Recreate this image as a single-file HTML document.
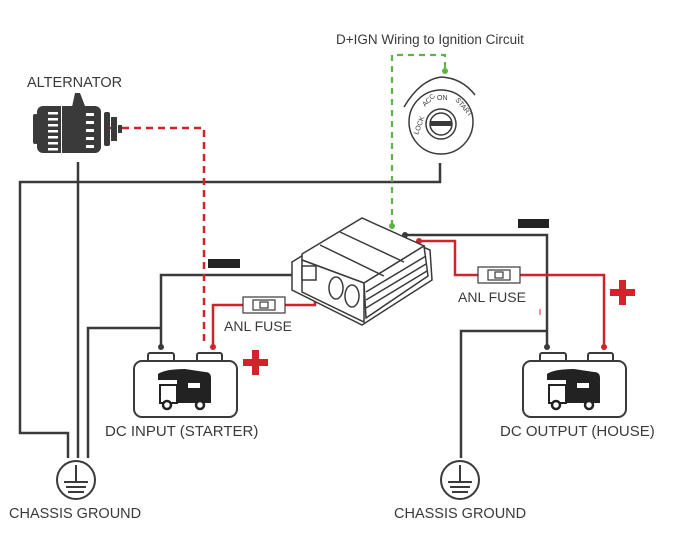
<!DOCTYPE html>
<html><head><meta charset="utf-8"><style>
html,body{margin:0;padding:0;background:#fff}
svg{display:block}
text{font-family:"Liberation Sans",sans-serif;fill:#3a3a3a}
</style></head><body>
<svg width="679" height="545" viewBox="0 0 679 545" xmlns="http://www.w3.org/2000/svg">
<g fill="none" stroke="#3a3a3a" stroke-width="2.5">
<!-- left grounds -->
<polyline points="440,163 440,182 20,182 20,433 68,433 68,458"/>
<line x1="78" y1="162" x2="78" y2="458"/>
<polyline points="88,458 88,328 161,328"/>
<polyline points="161,347 161,275 302,275"/>
<!-- right -->
<polyline points="405,235 547,235 547,347"/>
<polyline points="547,331 461,331 461,458"/>
</g>
<!-- red dashed -->
<polyline points="110,128 204,128 204,345" fill="none" stroke="#d2232a" stroke-width="2.5" stroke-dasharray="7,5"/>
<!-- green dashed -->
<polyline points="392,226 392,55 445,55 445,70" fill="none" stroke="#5fb346" stroke-width="2.2" stroke-dasharray="6,5"/>
<circle cx="392" cy="226" r="3" fill="#5fb346"/><circle cx="445" cy="71" r="3" fill="#5fb346"/>
<!-- red solid -->
<g fill="none" stroke="#d2232a" stroke-width="2.5">
<polyline points="213,347 213,305 243,305"/>
<polyline points="285,305 315,305 315,278"/>
<polyline points="419,241 455,241 455,275 478,275"/>
<polyline points="520,275 604,275 604,347"/>
</g>
<line x1="540" y1="309" x2="540" y2="315" stroke="#d2232a" stroke-width="1"/>
<circle cx="213" cy="347" r="3" fill="#d2232a"/><circle cx="604" cy="347" r="3" fill="#d2232a"/>
<circle cx="419" cy="241" r="3" fill="#d2232a"/><circle cx="315" cy="278" r="3" fill="#d2232a"/>
<circle cx="161" cy="347" r="3" fill="#3a3a3a"/><circle cx="547" cy="347" r="3" fill="#3a3a3a"/><circle cx="405" cy="235" r="3" fill="#3a3a3a"/>
<!-- black bars -->
<rect x="208" y="259" width="32" height="9" fill="#222"/>
<rect x="518" y="219" width="31" height="9" fill="#222"/>
<!-- plus signs -->
<g fill="#d2232a"><rect x="243" y="359" width="25" height="7"/><rect x="252" y="350" width="7" height="25"/>
<rect x="610" y="289" width="25" height="7"/><rect x="619" y="280" width="7" height="25"/></g>
<!-- fuses -->
<g stroke="#3a3a3a" stroke-width="1.2" fill="#fff">
<rect x="243" y="297" width="42" height="16"/><rect x="253" y="300" width="22" height="10"/><rect x="260" y="302" width="8" height="6"/>
<rect x="478" y="267" width="42" height="16"/><rect x="488" y="270" width="22" height="10"/><rect x="495" y="272" width="8" height="6"/>
</g>
<text x="224" y="331" font-size="14">ANL FUSE</text>
<text x="458" y="302" font-size="14">ANL FUSE</text>
<!-- batteries -->
<g stroke="#3a3a3a" stroke-width="2" fill="#fff">
<rect x="148" y="353" width="26" height="9" rx="2"/><rect x="197" y="353" width="25" height="9" rx="2"/>
<rect x="134" y="361" width="103" height="56" rx="8"/>
<rect x="540" y="353" width="26" height="9" rx="2"/><rect x="588" y="353" width="25" height="9" rx="2"/>
<rect x="523" y="361" width="103" height="56" rx="8"/>
</g>
<g id="truck" fill="#222">
<path d="M158,374 Q165,369 185,369 L205,372 Q211,372 211,378 L211,397 L177,397 L177,380 L158,380 Z"/>
<path d="M160,385 L177,385 L177,403 L160,403 Z" fill="#fff" stroke="#222" stroke-width="2"/>
<rect x="177" y="393" width="34" height="10"/>
<circle cx="167" cy="405" r="4" fill="#fff" stroke="#222" stroke-width="2.5"/>
<circle cx="200" cy="405" r="4" fill="#fff" stroke="#222" stroke-width="2.5"/>
<rect x="188" y="383" width="12" height="5" fill="#fff"/>
</g>
<use href="#truck" x="389" y="0"/>
<text x="105" y="436" font-size="15">DC INPUT (STARTER)</text>
<text x="500" y="436" font-size="15">DC OUTPUT (HOUSE)</text>
<!-- ground symbols -->
<g stroke="#3a3a3a" stroke-width="2" fill="none">
<circle cx="76" cy="480" r="19"/><line x1="76" y1="465" x2="76" y2="481"/><line x1="64" y1="482" x2="88" y2="482"/><line x1="66" y1="487" x2="86" y2="487"/><line x1="68" y1="492" x2="84" y2="492"/>
<circle cx="460" cy="480" r="19"/><line x1="460" y1="465" x2="460" y2="481"/><line x1="448" y1="482" x2="472" y2="482"/><line x1="450" y1="487" x2="470" y2="487"/><line x1="452" y1="492" x2="468" y2="492"/>
</g>
<text x="9" y="518" font-size="14.5">CHASSIS GROUND</text>
<text x="394" y="518" font-size="14.5">CHASSIS GROUND</text>
<!-- alternator -->
<text x="27" y="87" font-size="14.5">ALTERNATOR</text>
<g fill="#3a3a3a">
<path d="M72,107 L75,93 L80,93 L85,106 Z"/>
<rect x="37" y="106" width="64" height="47" rx="6"/>
<rect x="33" y="114" width="5" height="30" rx="2"/>
<rect x="104" y="112" width="6" height="34" rx="2"/><rect x="111" y="117" width="6" height="24"/>
<rect x="118" y="125" width="4" height="8"/>
</g>
<g fill="#fff"><rect x="48" y="112" width="10" height="2.5"/><rect x="48" y="118" width="10" height="2.5"/><rect x="48" y="124" width="10" height="2.5"/><rect x="48" y="130" width="10" height="2.5"/><rect x="48" y="136" width="10" height="2.5"/><rect x="48" y="142" width="10" height="2.5"/><rect x="48" y="148" width="10" height="2.5"/>
<rect x="86" y="113" width="8" height="3"/><rect x="86" y="121" width="8" height="3"/><rect x="86" y="129" width="8" height="3"/><rect x="86" y="137" width="8" height="3"/><rect x="86" y="145" width="8" height="3"/><rect x="61" y="106" width="1" height="47"/></g>
<!-- ignition -->
<text x="336" y="44" font-size="13.5">D+IGN Wiring to Ignition Circuit</text>
<g stroke="#3a3a3a" fill="none" stroke-width="1.5">
<circle cx="441" cy="122" r="32"/><circle cx="441" cy="124" r="15"/><circle cx="441" cy="124" r="11"/>
<path d="M404,107 Q420,80 441,77 Q462,78 475,95"/>
</g>
<rect x="430" y="121" width="22" height="5" fill="#3a3a3a"/>
<g font-size="7"><text x="418" y="135" transform="rotate(-70 418 135)">LOCK</text><text x="425" y="107" transform="rotate(-45 425 107)">ACC</text><text x="437" y="100">ON</text><text x="455" y="100" transform="rotate(50 455 100)">START</text></g>
<!-- DC-DC device -->
<g stroke="#3a3a3a" stroke-width="1.5" fill="#fff">
<polygon points="292,262 360,220 430,250 432,280 362,325 292,290"/>
<polygon points="302,254 362,218 424,246 364,283 302,260"/>
<polygon points="302,260 364,283 364,322 302,292"/>
<polygon points="364,283 424,246 428,276 366,318"/>
<line x1="366" y1="292" x2="426" y2="256"/><line x1="366" y1="300" x2="426" y2="264"/><line x1="366" y1="308" x2="427" y2="271"/>
<line x1="320" y1="245" x2="384" y2="276"/><line x1="340" y1="232" x2="404" y2="262"/>
<ellipse cx="336" cy="288" rx="7" ry="11"/><ellipse cx="352" cy="296" rx="7" ry="11"/>
<rect x="302" y="266" width="14" height="14"/>
</g>
</svg>
</body></html>
